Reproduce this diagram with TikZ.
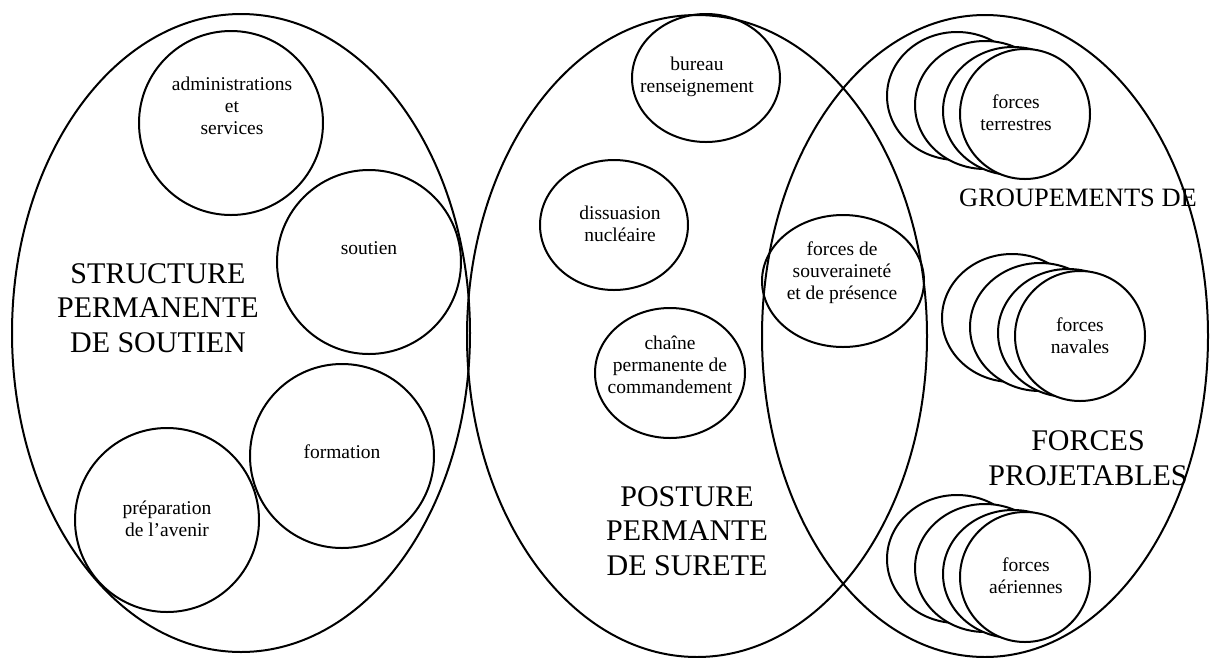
\documentclass[tikz,border=0pt]{standalone}
\usepackage{fontspec}
\setmainfont{Liberation Serif}
\usetikzlibrary{shapes.geometric}

\begin{document}
\begin{tikzpicture}[x=1pt,y=-1pt,
  zone/.style={ellipse,draw,line width=2pt,inner sep=0pt},
  rond/.style={circle,draw,line width=2pt,minimum size=184pt,inner sep=0pt},
  bulle/.style={ellipse,draw,line width=2pt,inner sep=0pt},
  pile/.style={ellipse,draw,fill=white,line width=2pt,minimum width=140pt,minimum height=128pt,inner sep=0pt},
  tete/.style={circle,draw,fill=white,line width=2pt,minimum size=130pt,inner sep=0pt},
  petit/.style={align=center,font=\fontsize{19.5}{22}\selectfont},
  grand/.style={align=center,font=\fontsize{30}{34.5}\selectfont}]
  \useasboundingbox (0,0) rectangle (1211,657);

  \node[zone,minimum width=458pt,minimum height=638pt] (soutien-zone) at (241,333) {};
  \node[zone,minimum width=460pt,minimum height=642pt] (surete-zone) at (697,336) {};
  \node[zone,minimum width=446pt,minimum height=642pt] (projet-zone) at (985,336) {};

  \node[rond] (admin) at (231,123) {};
  \node[rond] (soutien) at (369,262) {};
  \node[rond] (formation) at (342,456) {};
  \node[rond] (avenir) at (167,520) {};
  \node[petit] (t-admin) at (232,106) {administrations\\et\\services};
  \node[petit] (t-soutien) at (369,248) {soutien};
  \node[petit] (t-formation) at (342,452) {formation};
  \node[petit] (t-avenir) at (167,519) {préparation\\de l'avenir};
  \node[grand] (t-structure) at (158,308) {STRUCTURE\\PERMANENTE\\DE SOUTIEN};

  \node[bulle,minimum width=148pt,minimum height=128pt] (bureau) at (706,78) {};
  \node[bulle,minimum width=148pt,minimum height=130pt] (dissuasion) at (614,225) {};
  \node[bulle,minimum width=150pt,minimum height=130pt] (chaine) at (670,373) {};
  \node[bulle,minimum width=162pt,minimum height=132pt] (presence) at (843,281) {};
  \node[petit] (t-bureau) at (697,77) {bureau\\renseignement};
  \node[petit] (t-dissuasion) at (620,224) {dissuasion\\nucléaire};
  \node[petit] (t-chaine) at (670,365) {chaîne\\permanente de\\commandement};
  \node[petit] (t-presence) at (842,273) {forces de\\souveraineté\\et de présence};
  \node[grand] (t-posture) at (687,531) {POSTURE\\PERMANTE\\DE SURETE};

  \foreach \nom/\x/\y in {terre/1025/114, mer/1080/336, air/1025/577}{
    \foreach \i/\dx/\dy in {1/-68/-18, 2/-40/-9, 3/-12/-3}
      \node[pile] (\nom-\i) at (\x+\dx,\y+\dy) {};
    \node[tete] (\nom) at (\x,\y) {};
  }
  \node[petit] (t-terre) at (1016,113) {forces\\terrestres};
  \node[petit] (t-mer) at (1080,336) {forces\\navales};
  \node[petit] (t-air) at (1026,576) {forces\\aériennes};
  \node[align=center,font=\fontsize{26.5}{30}\selectfont] (t-groupements) at (1078,198) {GROUPEMENTS DE};
  \node[grand] (t-projetables) at (1088,458) {FORCES\\PROJETABLES};
\end{tikzpicture}
\end{document}
